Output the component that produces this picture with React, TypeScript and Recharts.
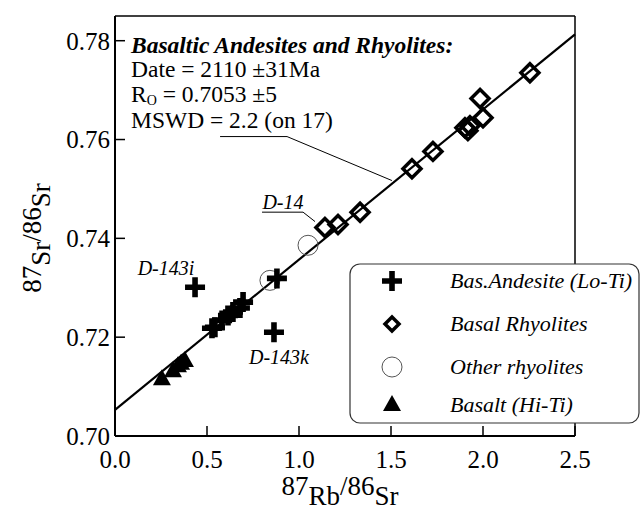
import React from 'react';
import {
  ScatterChart,
  Scatter,
  XAxis,
  YAxis,
  ReferenceLine,
  ReferenceDot,
  Legend,
  Label,
} from 'recharts';

const FONT = "'Liberation Serif', 'DejaVu Serif', serif";

// Bas. Andesite (Lo-Ti), incl. outliers D-143i (0.435) and D-143k (0.864)
const AND_X = [0.527, 0.543, 0.582, 0.614, 0.641, 0.679, 0.696, 0.88, 0.435, 0.864];
const AND_Y = [0.7218, 0.722, 0.7234, 0.7244, 0.7251, 0.7259, 0.7271, 0.7319, 0.7301, 0.721];

// Basal Rhyolites
const RHY_X = [1.141, 1.212, 1.332, 1.614, 1.728, 1.902, 1.918, 1.929, 1.984, 2.0, 2.255];
const RHY_Y = [0.7422, 0.7428, 0.7453, 0.7541, 0.7576, 0.7624, 0.7618, 0.7628, 0.7683, 0.7644, 0.7735];

// Other rhyolites
const OTH_X = [0.842, 1.049];
const OTH_Y = [0.7315, 0.7386];

// Basalt (Hi-Ti)
const BAS_X = [0.255, 0.315, 0.342, 0.359, 0.38];
const BAS_Y = [0.7115, 0.7131, 0.7141, 0.7146, 0.7152];

// isochron: Ro = 0.7053, 2110 Ma
const INTERCEPT = 0.7053;
const SLOPE = 0.0304;

const X_TICKS = [0, 0.5, 1.0, 1.5, 2.0, 2.5];
const X_MINOR = [0.1, 0.2, 0.3, 0.4, 0.6, 0.7, 0.8, 0.9, 1.1, 1.2, 1.3, 1.4, 1.6, 1.7, 1.8, 1.9, 2.1, 2.2, 2.3, 2.4];
const Y_TICKS = [0.7, 0.72, 0.74, 0.76, 0.78];
const Y_MINOR = [0.71, 0.73, 0.75, 0.77];

const LEGEND_NAMES = ['Bas.Andesite (Lo-Ti)', 'Basal Rhyolites', 'Other rhyolites', 'Basalt (Hi-Ti)'];

const toPoints = (xs: number[], ys: number[]) => xs.map((x, i) => ({ x, y: ys[i] }));

const Plus = ({ cx, cy }: any) => (
  <path
    d={`M${cx - 2.8},${cy - 10}h5.6v7.2h7.2v5.6h-7.2v7.2h-5.6v-7.2h-7.2v-5.6h7.2z`}
    fill="#000"
  />
);

const Diamond = ({ cx, cy, s = 9 }: any) => (
  <path
    d={`M${cx},${cy - s}L${cx + s},${cy}L${cx},${cy + s}L${cx - s},${cy}Z`}
    fill="none"
    stroke="#000"
    strokeWidth={3.5}
  />
);

const Ring = ({ cx, cy }: any) => (
  <circle cx={cx} cy={cy} r={10} fill="none" stroke="#555" strokeWidth={1} />
);

const Triangle = ({ cx, cy }: any) => (
  <path d={`M${cx},${cy - 10}L${cx + 9},${cy + 6}L${cx - 9},${cy + 6}Z`} fill="#000" />
);

const ICONS = [Plus, Diamond, Ring, Triangle];

const LegendBox = () => (
  <svg width={291} height={161}>
    <rect x={1} y={1} width={289} height={159} rx={10} fill="#fff" stroke="#333" strokeWidth={1.2} />
    {LEGEND_NAMES.map((name, i) => {
      const Icon = ICONS[i];
      const cy = [18, 61, 104, 142][i];
      return (
        <g key={name}>
          <Icon cx={43} cy={cy} s={7} />
          <text x={101} y={cy + 7} fontFamily={FONT} fontStyle="italic" fontSize={22} fill="#000">
            {name}
          </text>
        </g>
      );
    })}
  </svg>
);

const InfoBlock = ({ viewBox }: any) => {
  const { x, y } = viewBox;
  return (
    <g fontFamily={FONT} fill="#000">
      <text x={x} y={y} fontSize={23.5} fontWeight="bold" fontStyle="italic">
        Basaltic Andesites and Rhyolites:
      </text>
      <text x={x} y={y + 24} fontSize={23.5}>Date = 2110 ±31Ma</text>
      <text x={x} y={y + 49} fontSize={23.5}>
        R<tspan fontSize={14} dy={3}>O</tspan>
        <tspan dy={-3}> = 0.7053 ±5</tspan>
      </text>
      <text x={x} y={y + 75} fontSize={23.5}>MSWD = 2.2 (on 17)</text>
    </g>
  );
};

const SampleLabel = (text: string) => ({ viewBox }: any) => (
  <text
    x={viewBox.x}
    y={viewBox.y}
    textAnchor="middle"
    dominantBaseline="central"
    fontFamily={FONT}
    fontStyle="italic"
    fontSize={20}
    fill="#000"
  >
    {text}
  </text>
);

const YTitle = ({ viewBox }: any) => {
  const cx = viewBox.x + 41;
  const cy = viewBox.y + viewBox.height / 2 + 12;
  return (
    <text
      transform={`rotate(-90 ${cx} ${cy})`}
      x={cx}
      y={cy}
      textAnchor="middle"
      fontFamily={FONT}
      fontSize={27}
      fill="#000"
    >
      87<tspan dy={9}>Sr</tspan>
      <tspan dy={-9}>/86</tspan>
      <tspan dy={9}>Sr</tspan>
    </text>
  );
};

const XTitle = ({ viewBox }: any) => {
  const cx = viewBox.x + viewBox.width / 2 - 5;
  const by = viewBox.y + 59;
  return (
    <text x={cx} y={by} textAnchor="middle" fontFamily={FONT} fontSize={27} fill="#000">
      87<tspan dy={10}>Rb</tspan>
      <tspan dy={-10}>/86</tspan>
      <tspan dy={10}>Sr</tspan>
    </text>
  );
};

const tickFont = { fill: '#000', fontSize: 25, fontFamily: FONT };

export default function App() {
  return (
    <div style={{ position: 'absolute', left: 0, top: 0, width: 643, height: 510, background: '#fff', fontFamily: FONT }}>
      <ScatterChart width={643} height={510} margin={{ top: 16, right: 68, bottom: 0, left: 0 }}>
        <XAxis
          type="number"
          dataKey="x"
          domain={[0, 2.5]}
          ticks={X_TICKS}
          tickFormatter={(v: number) => v.toFixed(1)}
          tickSize={-10}
          tickMargin={24}
          height={74}
          axisLine={{ stroke: '#000', strokeWidth: 2 }}
          tickLine={{ stroke: '#000', strokeWidth: 1.5 }}
          tick={tickFont}
        >
          <Label content={XTitle} />
        </XAxis>
        <XAxis
          xAxisId="minor"
          type="number"
          domain={[0, 2.5]}
          ticks={X_MINOR}
          mirror
          tick={false}
          tickSize={5}
          axisLine={false}
          tickLine={{ stroke: '#000', strokeWidth: 1.2 }}
        />
        <XAxis
          xAxisId="top"
          orientation="top"
          type="number"
          domain={[0, 2.5]}
          mirror
          tick={false}
          tickLine={false}
          axisLine={{ stroke: '#000', strokeWidth: 1.5 }}
        />
        <YAxis
          type="number"
          dataKey="y"
          domain={[0.7, 0.785]}
          ticks={Y_TICKS}
          tickFormatter={(v: number) => v.toFixed(2)}
          tickSize={-10}
          tickMargin={15}
          width={115}
          axisLine={{ stroke: '#000', strokeWidth: 2 }}
          tickLine={{ stroke: '#000', strokeWidth: 1.5 }}
          tick={tickFont}
        >
          <Label content={YTitle} />
        </YAxis>
        <YAxis
          yAxisId="minor"
          type="number"
          domain={[0.7, 0.785]}
          ticks={Y_MINOR}
          mirror
          tick={false}
          tickSize={5}
          axisLine={false}
          tickLine={{ stroke: '#000', strokeWidth: 1.2 }}
        />
        <YAxis
          yAxisId="right"
          orientation="right"
          type="number"
          domain={[0.7, 0.785]}
          mirror
          tick={false}
          tickLine={false}
          axisLine={{ stroke: '#000', strokeWidth: 1.5 }}
        />

        <ReferenceLine
          segment={[
            { x: 0, y: INTERCEPT },
            { x: 2.5, y: INTERCEPT + SLOPE * 2.5 },
          ]}
          stroke="#000"
          strokeWidth={2.2}
        />
        {/* leader from MSWD text to isochron */}
        <ReferenceLine
          segment={[
            { x: 0.571, y: 0.7606 },
            { x: 0.935, y: 0.7606 },
          ]}
          stroke="#000"
          strokeWidth={1}
        />
        <ReferenceLine
          segment={[
            { x: 0.935, y: 0.7606 },
            { x: 1.505, y: 0.7517 },
          ]}
          stroke="#000"
          strokeWidth={1}
        />
        {/* leader from D-14 label */}
        <ReferenceLine
          segment={[
            { x: 0.799, y: 0.7453 },
            { x: 1.022, y: 0.7453 },
          ]}
          stroke="#000"
          strokeWidth={1}
        />
        <ReferenceLine
          segment={[
            { x: 1.022, y: 0.7453 },
            { x: 1.087, y: 0.7434 },
          ]}
          stroke="#000"
          strokeWidth={1}
        />

        <Scatter name="Other rhyolites" data={toPoints(OTH_X, OTH_Y)} shape={Ring} isAnimationActive={false} />
        <Scatter name="Basal Rhyolites" data={toPoints(RHY_X, RHY_Y)} shape={Diamond} isAnimationActive={false} />
        <Scatter name="Bas.Andesite (Lo-Ti)" data={toPoints(AND_X, AND_Y)} shape={Plus} isAnimationActive={false} />
        <Scatter name="Basalt (Hi-Ti)" data={toPoints(BAS_X, BAS_Y)} shape={Triangle} isAnimationActive={false} />

        <ReferenceDot x={0.087} y={0.7776} r={0} fill="none" stroke="none" label={<Label content={InfoBlock} />} />
        <ReferenceDot x={0.277} y={0.7341} r={0} fill="none" stroke="none" label={<Label content={SampleLabel('D-143i')} />} />
        <ReferenceDot x={0.891} y={0.716} r={0} fill="none" stroke="none" label={<Label content={SampleLabel('D-143k')} />} />
        <ReferenceDot x={0.913} y={0.7473} r={0} fill="none" stroke="none" label={<Label content={SampleLabel('D-14')} />} />

        <Legend
          layout="horizontal"
          verticalAlign="middle"
          align="center"
          content={LegendBox}
          wrapperStyle={{ left: 349, top: 263, width: 291, height: 161 }}
        />
      </ScatterChart>
    </div>
  );
}
